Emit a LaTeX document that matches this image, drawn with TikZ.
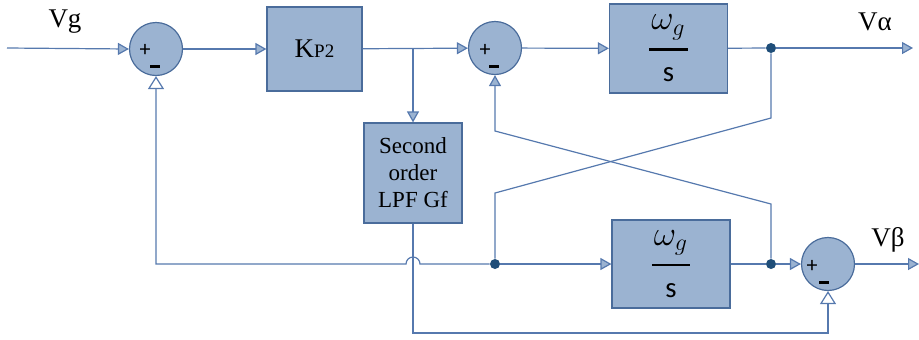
\documentclass[tikz,border=0pt]{standalone}
\usepackage{amsmath}
\usepackage{fontspec}
\setmainfont{Liberation Serif}
\newfontfamily\calib{Carlito}
\usepackage{xcolor}
\usepackage{tikz}
\usetikzlibrary{arrows.meta,positioning}
\definecolor{bfill}{HTML}{9BB3D1}
\definecolor{bedge}{HTML}{4A6C9B}
\definecolor{wire}{HTML}{5679AE}
\definecolor{jdot}{HTML}{1F4E79}
\tikzset{
  blk/.style={draw=bedge, fill=bfill, line width=0.6pt, align=center,
              inner sep=0pt, minimum width=#1},
  blk/.default=59pt,
  summ/.style={circle, draw=bedge, fill=bfill, line width=0.6pt, minimum size=26.5pt, inner sep=0pt},
  flow/.style={-{Triangle[length=5.5pt, width=6pt, fill=bfill]}, line width=0.6pt, draw=wire},
  hollow/.style={-{Triangle[length=6.5pt, width=8pt, fill=white]}, line width=0.6pt, draw=wire},
  wireline/.style={line width=0.6pt, draw=wire},
  sgn/.style={font=\calib\fontsize{11}{11}\selectfont, inner sep=0pt},
  lbl/.style={font=\fontsize{13.5}{13.5}\selectfont, inner sep=0pt},
  jn/.style={circle, fill=jdot, minimum size=5pt, inner sep=0pt}
}
\newcommand{\wgs}{\(\genfrac{}{}{1.4pt}{0}{\hspace{1pt}\omega_{g}\hspace{1pt}}{\text{\calib\Large s}}\)}
\newcommand{\minus}{\rule[0.3ex]{5pt}{1.1pt}}
\begin{document}
\begin{tikzpicture}[x=0.5pt, y=-0.5pt]
  \useasboundingbox (0,0) rectangle (919,339);
  % blocks
  \node[summ] (sum1) at (156,49) {};
  \node[blk=47.5pt, minimum height=42pt, font=\fontsize{13.5}{13.5}\selectfont] (kp) at (314.5,49)
    {K{\fontsize{9.5}{9.5}\selectfont P2}};
  \node[blk=49pt, minimum height=50pt, font=\fontsize{11.5}{13.5}\selectfont] (lpf) at (413,173)
    {Second\\order\\LPF Gf};
  \node[summ] (sum2) at (495,48) {};
  \node[blk, minimum height=44.5pt, font=\LARGE] (int1) at (668.5,48.5) {\wgs};
  \node[blk, minimum height=44pt, font=\LARGE] (int2) at (671,264) {\wgs};
  \node[summ] (sum3) at (828,264) {};
  % signs
  \node[sgn] (p1) at ([shift={(-11,1)}]sum1.center) {+};
  \node[sgn] (m1) at ([shift={(-1,19)}]sum1.center) {\minus};
  \node[sgn] (p2) at ([shift={(-10,2)}]sum2.center) {+};
  \node[sgn] (m2) at ([shift={(-1,20)}]sum2.center) {\minus};
  \node[sgn] (p3) at ([shift={(-16,2)}]sum3.center) {+};
  \node[sgn] (m3) at ([shift={(-4,20)}]sum3.center) {\minus};
  % junctions
  \node[jn] (d1) at (771,48) {};
  \node[jn] (d2) at (495,264) {};
  \node[jn] (d3) at (771,264) {};
  % labels
  \node[lbl] (vg) at (65,22) {Vg};
  \node[lbl] (va) at (875,22) {Vα};
  \node[lbl] (vb) at (888,240) {Vβ};
  % free ends and bends
  \coordinate (in) at (7,48);
  \coordinate (outa) at (913,48);
  \coordinate (outb) at (919,264);
  \coordinate (br) at (lpf.north |- kp.east);
  \coordinate (c1) at (771,204);
  \coordinate (c2) at (495,131);
  \coordinate (c3) at (771,118);
  \coordinate (c4) at (495,193);
  \coordinate (c5) at (lpf.south |- 0,333);
  \coordinate (c6) at (sum3.south |- 0,333);
  \coordinate (c7) at (sum1.south |- d2);
  \coordinate (jr) at ([xshift=3.5pt]lpf.south |- d2);
  % forward path
  \draw[flow] (in) -- (sum1.west);
  \draw[flow] (sum1) -- (kp);
  \draw[flow] (kp) -- (sum2);
  \draw[flow] (br) -- (lpf.north);
  \draw[flow] (sum2) -- (int1);
  \draw[wireline] (int1) -- (d1);
  \draw[flow] (d1) -- (outa);
  \draw[flow] (d2) -- (int2);
  \draw[wireline] (int2) -- (d3);
  \draw[flow] (d3) -- (sum3);
  \draw[flow] (sum3) -- (outb);
  % cross coupling
  \draw[flow] (d3) -- (c1) -- (c2) -- (sum2.south);
  \draw[wireline] (d1) -- (c3) -- (c4) -- (d2);
  % feedback
  \draw[hollow] (d2) -- (jr) arc[start angle=0, end angle=180, radius=3.5pt] -- (c7) -- (sum1.south);
  \draw[hollow] (lpf.south) -- (c5) -- (c6) -- (sum3.south);
\end{tikzpicture}
\end{document}
